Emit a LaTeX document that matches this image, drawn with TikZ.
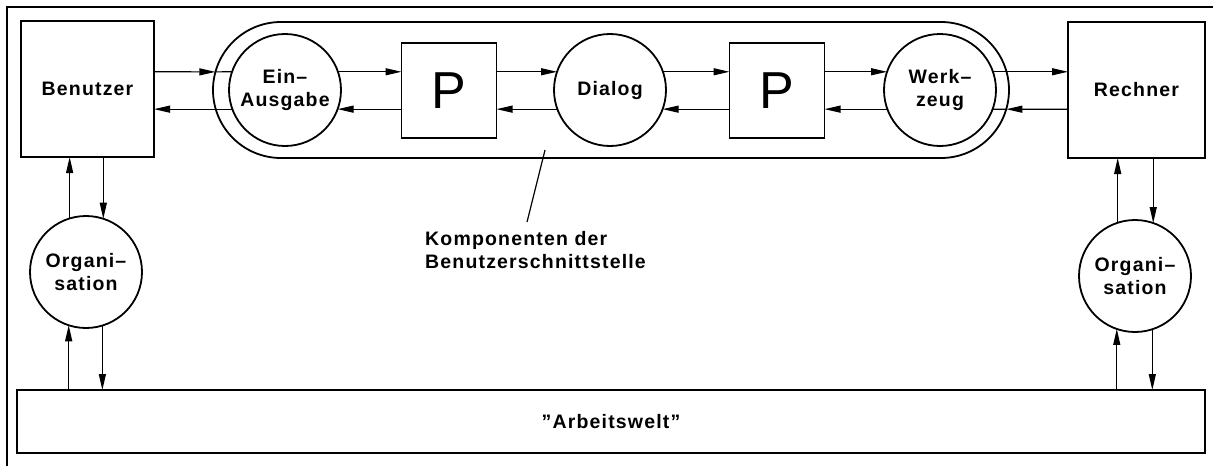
\documentclass[tikz,border=0pt]{standalone}
\usepackage{fontspec}
\setmainfont{Liberation Sans}[LetterSpace=6]
\newfontfamily\pfont{Liberation Sans}
\usetikzlibrary{arrows.meta}
\newcommand\dlbl{\fontsize{19.5}{23.5}\selectfont\bfseries}
\newcommand\bigP{\pfont\fontsize{52}{52}\selectfont}
\begin{document}
\begin{tikzpicture}[x=1pt,y=-1pt,
  box/.style={draw,line width=1.8pt,inner sep=0pt,outer sep=0pt},
  circ/.style={draw,circle,line width=1.8pt,minimum size=112pt,inner sep=0pt,outer sep=0pt,align=center,font=\dlbl},
  arr/.style={line width=1.2pt,-{Triangle[length=16pt,width=7pt]}},
  ln/.style={line width=1.2pt}]
\useasboundingbox (0,0) rectangle (1213,466);
\draw[line width=1.8pt] (7,466) -- (7,7) -- (1213,7);
\node[box,minimum width=796pt,minimum height=136pt,rounded corners=68pt] (cap) at (611,90) {};
\node[box,minimum width=133pt,minimum height=136pt,font=\dlbl] (B) at (87.5,89) {Benutzer};
\node[box,minimum width=137pt,minimum height=136pt,font=\dlbl] (R) at (1136.5,90) {Rechner};
\node[circ] (EA) at (285,90) {Ein–\\Ausgabe};
\node[box,minimum size=95pt,font=\bigP] (P1) at (449,90.5) {P};
\node[circ] (D) at (610,90) {Dialog};
\node[box,minimum size=95pt,font=\bigP] (P2) at (777,90.5) {P};
\node[circ] (W) at (940,90) {Werk–\\zeug};
\node[circ] (OL) at (86,272) {Organi–\\sation};
\node[circ] (OR) at (1135,276) {Organi–\\sation};
\node[box,minimum width=1188pt,minimum height=63pt,font=\dlbl] (AW) at (611,421.5) {"Arbeitswelt"};
\node[font=\dlbl,align=left,anchor=north west,inner sep=0pt] (K) at (425,231) {Komponenten der\\Benutzerschnittstelle};
\coordinate (capL) at (215.4,71.9);
\coordinate (capR) at (1006.3,109.2);
\coordinate (ptrA) at (545,150);
\coordinate (ptrB) at (527,222);
% horizontal connectors
\draw[arr] (B.east |- EA.161) -- (capL);
\draw[ln] (capL) -- (EA.161);
\draw[arr] (EA.200) -- (EA.200 -| B.east);
\draw[arr] (EA.19) -- (EA.19 -| P1.west);
\draw[arr] (P1.west |- EA.-20) -- (EA.-20);
\draw[arr] (P1.east |- D.161) -- (D.161);
\draw[arr] (D.200) -- (D.200 -| P1.east);
\draw[arr] (D.19) -- (D.19 -| P2.west);
\draw[arr] (P2.west |- D.-20) -- (D.-20);
\draw[arr] (P2.east |- W.161) -- (W.161);
\draw[arr] (W.200) -- (W.200 -| P2.east);
\draw[arr] (W.19) -- (W.19 -| R.west);
\draw[arr] (R.west |- W.-20) -- (capR);
\draw[ln] (capR) -- (W.-20);
% vertical connectors left
\draw[arr] (OL.107.7) -- (OL.107.7 |- B.south);
\draw[arr] (OL.72.3 |- B.south) -- (OL.72.3);
\draw[arr] (OL.252.3 |- AW.north) -- (OL.252.3);
\draw[arr] (OL.287.7) -- (OL.287.7 |- AW.north);
% vertical connectors right
\draw[arr] (OR.108.75) -- (OR.108.75 |- R.south);
\draw[arr] (OR.71.25 |- R.south) -- (OR.71.25);
\draw[arr] (OR.251.25 |- AW.north) -- (OR.251.25);
\draw[arr] (OR.288.75) -- (OR.288.75 |- AW.north);
% pointer
\draw[ln] (ptrA) -- (ptrB);
\end{tikzpicture}
\end{document}
